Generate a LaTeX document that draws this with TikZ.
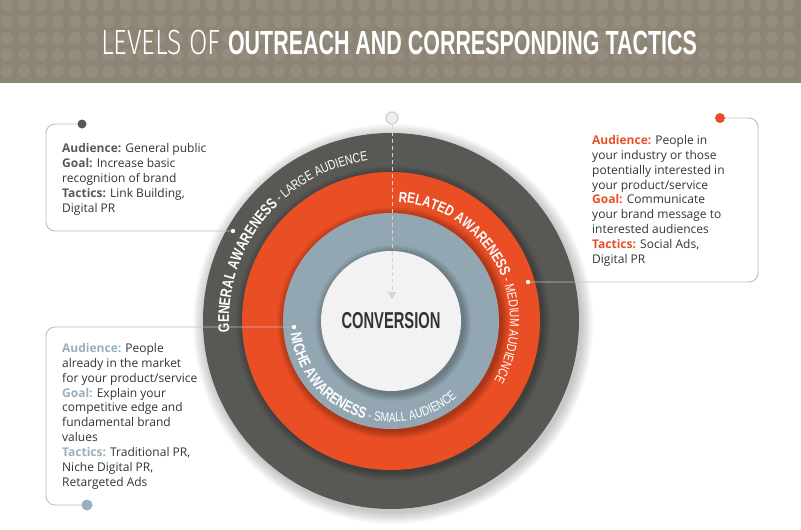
\documentclass[tikz,border=0pt]{standalone}
\usepackage{fontspec}
\setmainfont{Open Sans}
\newfontfamily\ringsans[FakeStretch=0.78]{Liberation Sans}
\newfontfamily\titlesans[FakeStretch=0.64]{Liberation Sans}
\newfontfamily\titlelight[FakeStretch=0.76]{Fira Sans Light}
\usetikzlibrary{arrows.meta,positioning,calc,decorations.text}

\definecolor{header}{HTML}{8C8575}
\definecolor{headerdot}{HTML}{948D7E}
\definecolor{ringdark}{HTML}{585955}
\definecolor{ringorange}{HTML}{EA4E25}
\definecolor{ringblue}{HTML}{93A7B3}
\definecolor{ringcore}{HTML}{F2F2F2}
\definecolor{bodytext}{HTML}{333333}
\definecolor{labeldark}{HTML}{58585A}
\definecolor{labelblue}{HTML}{9AAEBD}
\definecolor{leadgray}{HTML}{BDBDBD}
\definecolor{flowgray}{HTML}{D2D2D2}

\newcommand\ringB[1]{\ringsans\bfseries\fontsize{#1}{#1}\selectfont}
\newcommand\ringL[1]{\ringsans\fontsize{#1}{#1}\selectfont}

\begin{document}
\begin{tikzpicture}[x=1pt, y=-1pt,
    leader/.style={draw=leadgray, line width=0.9pt, rounded corners=9pt},
    infotext/.style={anchor=north west, inner sep=0pt, align=left, text=bodytext,
        font=\fontsize{12}{14.9}\selectfont},
    flow/.style={draw=flowgray, line width=1pt, dash pattern=on 4pt off 3pt,
        -{Triangle[length=7pt,width=8pt]}},
    ringtext/.style={decorate, decoration={text along path, text align=left,
        text color=white, text={#1}}}]

    \useasboundingbox (0,0) rectangle (801,530);

    % Header band with dots
    \fill[header] (0,0) rectangle (801,83);
    \begin{scope}
        \clip (0,0) rectangle (801,83);
        \foreach \i in {0,...,47}
            \foreach \j in {0,...,4}
                \fill[headerdot] ({7+17*\i},{5+16.6*\j}) ellipse (6 and 6.5);
    \end{scope}
    \node[text=white, inner sep=0pt] (title) at (399,43)
        {\titlelight\fontsize{35}{35}\selectfont LEVELS OF
         \titlesans\bfseries\fontsize{33.5}{33.5}\selectfont OUTREACH AND CORRESPONDING TACTICS};

    % Rings
    \begin{scope}[shift={(391,321)}]
        \foreach \k in {1,...,12}
            \fill[black, opacity=0.018] (2,3) circle ({188+\k});
        \fill[ringdark] (0,0) circle (188);
        \foreach \k in {1,...,8}
            \fill[black, opacity=0.035] (2,2) circle ({149+\k});
        \fill[ringorange] (0,0) circle (149);
        \foreach \k in {1,...,8}
            \fill[black, opacity=0.035] (2,2) circle ({108+\k});
        \fill[ringblue] (0,0) circle (108);
        \foreach \k in {1,...,8}
            \fill[black, opacity=0.035] (2,2) circle ({70+\k});
        \fill[ringcore] (0,0) circle (70);

        % Ring labels
        \path[ringtext={|\ringB{15.5}|GENERAL AWARENESS|\ringL{13.4}| - LARGE AUDIENCE}]
            (-184:162) arc[start angle=-184, end angle=-80, radius=162];
        \path[ringtext={|\ringB{15}|RELATED AWARENESS|\ringL{13.2}| - MEDIUM AUDIENCE}]
            (-86.5:119) arc[start angle=-86.5, end angle=40, radius=119];
        \path[ringtext={|\ringB{15.5}|NICHE AWARENESS|\ringL{13.2}| - SMALL AUDIENCE}]
            (-187:101) arc[start angle=-187, end angle=-345, radius=101];

        \node[text=bodytext, inner sep=0pt,
            font=\titlesans\bfseries\fontsize{23}{23}\selectfont] (core) at (0,0) {CONVERSION};
    \end{scope}

    % Flow arrow into the core
    \node[circle, draw=flowgray, fill=gray!12, line width=1.3pt, minimum size=12pt,
        inner sep=0pt] (start) at (392,118) {};
    \coordinate (arrowend) at (392,299);
    \draw[flow] (start) -- (arrowend);

    % Leaders
    \coordinate (gdot) at (82,124);
    \coordinate (gbend) at (46,180);
    \coordinate (gpin) at (233,231);
    \coordinate (rdot) at (720,118);
    \coordinate (rbend) at (758,200);
    \coordinate (rpin) at (528,282);
    \coordinate (npin) at (294,327);
    \coordinate (nbend) at (46,420);
    \coordinate (ndot) at (87,505);

    \draw[leader] (gdot) -| (gbend) |- (gpin);
    \draw[leader] (rdot) -| (rbend) |- (rpin);
    \draw[leader] (npin) -| (nbend) |- (ndot);

    \fill[labeldark] (gdot) circle (4.5);
    \fill[ringorange] (rdot) circle (5);
    \fill[labelblue] (ndot) circle (5.5);
    \fill[white] (gpin) circle (2.2);
    \fill[white] (rpin) circle (2.2);
    \fill[white] (npin) circle (2.2);

    % Info texts
    \node[infotext] (generalinfo) at (62,143.5)
        {\textbf{\color{labeldark}Audience:} General public\\
         \textbf{\color{labeldark}Goal:} Increase basic\\
         recognition of brand\\
         \textbf{\color{labeldark}Tactics:} Link Building,\\
         Digital PR};
    \node[infotext] (relatedinfo) at (592,135)
        {\textbf{\color{ringorange}Audience:} People in\\
         your industry or those\\
         potentially interested in\\
         your product/service\\
         \textbf{\color{ringorange}Goal:} Communicate\\
         your brand message to\\
         interested audiences\\
         \textbf{\color{ringorange}Tactics:} Social Ads,\\
         Digital PR};
    \node[infotext] (nicheinfo) at (62,343)
        {\textbf{\color{labelblue}Audience:} People\\
         already in the market\\
         for your product/service\\
         \textbf{\color{labelblue}Goal:} Explain your\\
         competitive edge and\\
         fundamental brand\\
         values\\
         \textbf{\color{labelblue}Tactics:} Traditional PR,\\
         Niche Digital PR,\\
         Retargeted Ads};
\end{tikzpicture}
\end{document}
